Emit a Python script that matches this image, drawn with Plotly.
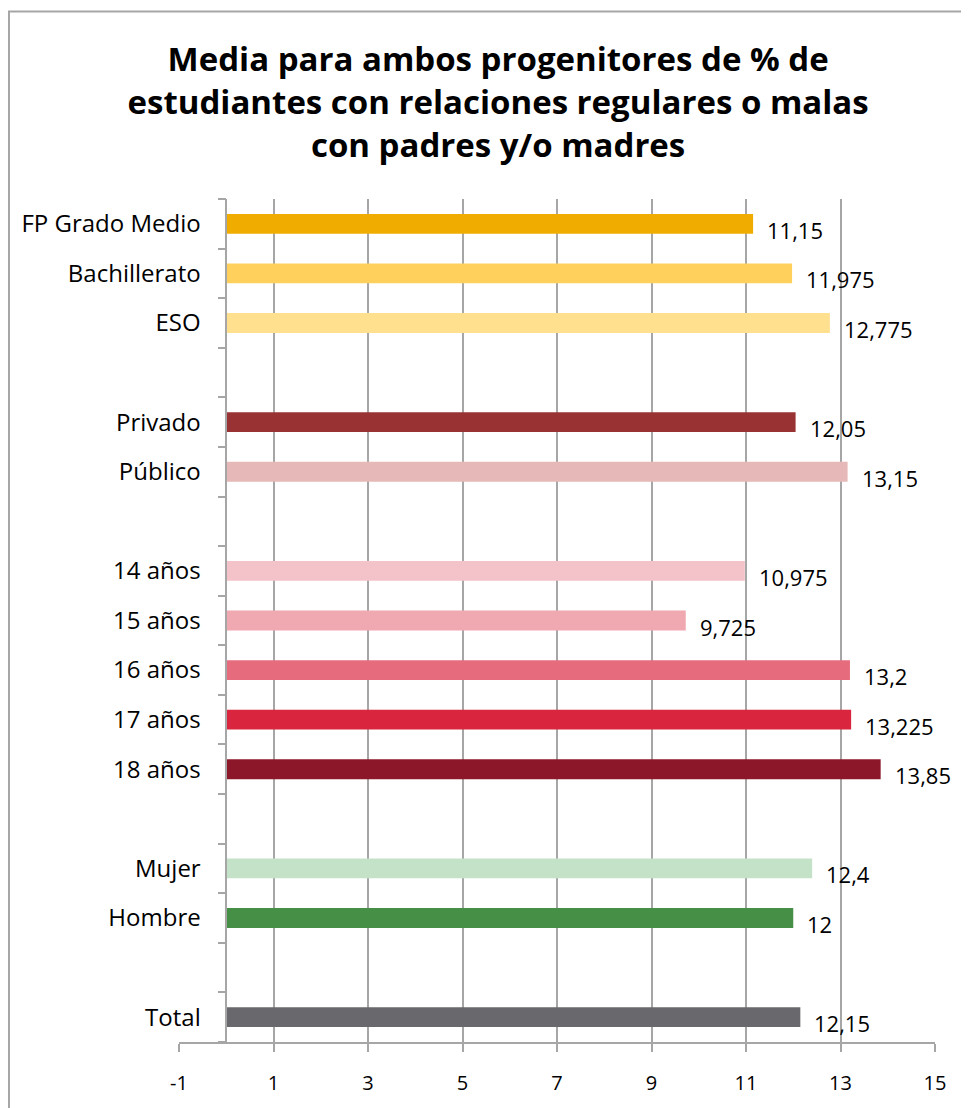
import plotly.graph_objects as go

# categorías de arriba a abajo (las entradas en blanco son huecos entre grupos)
categorias = ["FP Grado Medio", "Bachillerato", "ESO", " ",
              "Privado", "Público", "  ",
              "14 años", "15 años", "16 años", "17 años", "18 años", "   ",
              "Mujer", "Hombre", "    ",
              "Total"]
valores = [11.15, 11.975, 12.775, None,
           12.05, 13.15, None,
           10.975, 9.725, 13.2, 13.225, 13.85, None,
           12.4, 12.0, None,
           12.15]
colores = ["#F0AD00", "#FFD15C", "#FFE08F", "#FFFFFF",
           "#993333", "#E6B8B7", "#FFFFFF",
           "#F4C2C9", "#F0A8B1", "#E66B7C", "#DA253F", "#8C1728", "#FFFFFF",
           "#C4E2C7", "#458F47", "#FFFFFF",
           "#69686D"]
ticks_x = [-1, 1, 3, 5, 7, 9, 11, 13, 15]
ticks_x_texto = ["-1", "1", "3", "5", "7", "9", "11", "13", "15"]

FUENTE = "Open Sans"

def etiqueta(v):
    s = ("%.3f" % v).rstrip("0").rstrip(".")
    return s.replace(".", ",")

fig = go.Figure()
fig.add_trace(go.Bar(
    x=valores,
    y=categorias,
    orientation="h",
    width=0.4,
    marker=dict(color=colores, line=dict(width=0)),
    hoverinfo="skip",
))

# etiquetas de datos, un poco a la derecha y por debajo del final de cada barra
for cat, v in zip(categorias, valores):
    if v is None:
        continue
    fig.add_annotation(
        x=v, y=cat, text=etiqueta(v),
        showarrow=False, xanchor="left", yanchor="middle",
        xshift=12, yshift=-6,
        font=dict(family=FUENTE, size=22, color="#000000"),
    )

# marco del gráfico
fig.add_shape(
    type="rect", xref="paper", yref="paper",
    x0=-0.2249, x1=1.1, y0=-0.09, y1=1.2224,
    line=dict(color="#A6A6A6", width=2), fillcolor="rgba(0,0,0,0)",
    layer="below",
)

fig.update_layout(
    width=961, height=1100,
    margin=dict(l=171, r=34, t=191, b=56),
    paper_bgcolor="white", plot_bgcolor="white",
    showlegend=False,
    title=dict(
        text="<b>Media para ambos progenitores de % de<br>estudiantes con relaciones regulares o malas<br>con padres y/o madres</b>",
        x=0.51, xanchor="center", xref="container",
        y=0.943, yanchor="middle", yref="container",
        font=dict(family=FUENTE, size=33, color="#000000"),
    ),
    xaxis=dict(
        range=[-1, 15], tickvals=ticks_x, ticktext=ticks_x_texto,
        showgrid=True, gridcolor="#A6A6A6", gridwidth=1.5,
        showline=True, linecolor="#A6A6A6", linewidth=1.5,
        ticks="outside", ticklen=8, tickcolor="#A6A6A6", tickwidth=1.5,
        ticklabelstandoff=14,
        tickfont=dict(family=FUENTE, size=20, color="#000000"),
        zeroline=False, fixedrange=True,
    ),
    yaxis=dict(
        categoryorder="array", categoryarray=categorias[::-1],
        anchor="free", position=1 / 16,
        showgrid=False, zeroline=False,
        showline=True, linecolor="#A6A6A6", linewidth=1.5,
        ticks="outside", tickson="boundaries", ticklen=8,
        tickcolor="#A6A6A6", tickwidth=1.5,
        ticklabelstandoff=20,
        tickfont=dict(family=FUENTE, size=24, color="#000000"),
        fixedrange=True,
    ),
)

fig.write_html("out.html")
